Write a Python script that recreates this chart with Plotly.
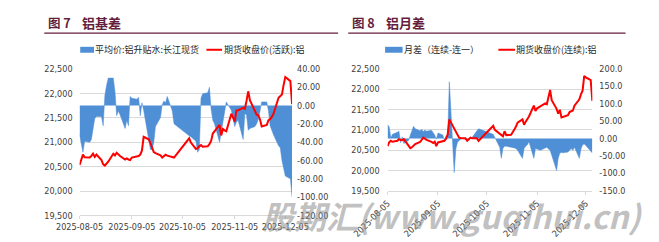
import plotly.graph_objects as go

W, H = 659, 242

# ---------------- data ----------------
dates = [
    "2025-08-05", "2025-08-06", "2025-08-07", "2025-08-08",
    "2025-08-11", "2025-08-12", "2025-08-13", "2025-08-14", "2025-08-15",
    "2025-08-18", "2025-08-19", "2025-08-20", "2025-08-21", "2025-08-22",
    "2025-08-25", "2025-08-26", "2025-08-27", "2025-08-28", "2025-08-29",
    "2025-09-01", "2025-09-02", "2025-09-03", "2025-09-04", "2025-09-05",
    "2025-09-08", "2025-09-09", "2025-09-10", "2025-09-11", "2025-09-12",
    "2025-09-15", "2025-09-16", "2025-09-17", "2025-09-18", "2025-09-19",
    "2025-09-22", "2025-09-23", "2025-09-24", "2025-09-25", "2025-09-26",
    "2025-09-29", "2025-09-30",
    "2025-10-09", "2025-10-10",
    "2025-10-13", "2025-10-14", "2025-10-15", "2025-10-16", "2025-10-17",
    "2025-10-20", "2025-10-21", "2025-10-22", "2025-10-23", "2025-10-24",
    "2025-10-27", "2025-10-28", "2025-10-29", "2025-10-30", "2025-10-31",
    "2025-11-03", "2025-11-04", "2025-11-05", "2025-11-06", "2025-11-07",
    "2025-11-10", "2025-11-11", "2025-11-12", "2025-11-13", "2025-11-14",
    "2025-11-17", "2025-11-18", "2025-11-19", "2025-11-20", "2025-11-21",
    "2025-11-24", "2025-11-25", "2025-11-26", "2025-11-27", "2025-11-28",
    "2025-12-01", "2025-12-02", "2025-12-03", "2025-12-04", "2025-12-05",
    "2025-12-08", "2025-12-09",
]

# Fig 7: basis (right axis) and active futures close (left axis)
basis = [
    -32, -44, -51, -39,
    -40, -37, -25, -14, -12,
    -12, -22, 11, 22, 30,
    30, 15, -11, -6, -10,
    -25, -16, -22, 10, 8,
    7, 9, -11, 3, -5,
    -37, -48, -48, -40, -23,
    -13, 1, 5, 3, 10,
    -6, -20,
    -33, -34,
    -39, -51, -48, 8, 13,
    14, 20, -4, -16, -20,
    -40, -30, -20, -6, 4,
    -5, -15, -23, -18, -16,
    -37, -9, -10, -27, -25,
    -23, -20, -15, -6, 4,
    4, -6, -22, -27, -32,
    -44, -46, -60, -70, -77,
    -80, -100,
]
price_active = [
    20535, 20666, 20745, 20692,
    20686, 20718, 20764, 20699, 20745,
    20633, 20548, 20522, 20568, 20600,
    20764, 20731, 20784, 20745, 20718,
    20646, 20666, 20646, 20633, 20686,
    20699, 20718, 20745, 20830, 21111,
    21059, 20980, 20895, 20797, 20777,
    20731, 20686, 20715, 20745, 20725,
    20699, 20686,
    21079, 20993,
    20862, 20876, 20915, 20941, 20908,
    20915, 20961, 21026, 21177, 21223,
    21354, 21138, 21269, 21242, 21223,
    21583, 21504, 21419, 21649, 21655,
    21701, 21681, 21845, 22042, 21858,
    21616, 21563, 21550, 21465, 21321,
    21354, 21452, 21472, 21518, 21583,
    21911, 21943, 21976, 22173, 22336,
    22251, 21780,
]

# Fig 8: calendar spread (right axis) and continuous futures close (left axis)
spread = [
    40, 33, 2, 12,
    18, 21, -12, 5, -14,
    -5, 10, 25, 35, 28,
    22, 26, 20, 24, 21,
    24, 18, 10, -2, 16,
    10, -6, 8, 5, 163,
    -98, -30, -11, -6, -2,
    3, -2, -6, 0, 3,
    22, 28,
    12, 3,
    -25, -57, -28, -22, -22,
    -25, -25, -27, -29, -34,
    -57, -29, -22, -18, -9,
    -57, -29, -30, -33, -34,
    -27, -25, -30, -34, -48,
    -92, -57, -42, -40, -41,
    -39, -34, -29, -34, -25,
    -57, -30, -18, -16, -20,
    -35, -42,
]
price_cont = [
    20596, 20690, 20729, 20705,
    20729, 20769, 20750, 20745, 20769,
    20596, 20549, 20570, 20610, 20650,
    20700, 20769, 20808, 20780, 20753,
    20706, 20674, 20706, 20596, 20690,
    20706, 20729, 20780, 20887, 21257,
    21050, 20966, 20887, 20808, 20800,
    20785, 20730, 20760, 20808, 20790,
    20790, 20729,
    21100, 21000,
    20900, 20863, 20840, 20966, 20870,
    20880, 20930, 21005, 21080, 21179,
    21257, 21123, 21201, 21260, 21330,
    21596, 21462, 21530, 21556, 21580,
    21650, 21630, 21793, 21982, 21729,
    21517, 21399, 21493, 21304, 21320,
    21359, 21438, 21450, 21477, 21595,
    21753, 21871, 21965, 22328, 22290,
    22225, 21713,
]

x_ticks = ["2025-08-05", "2025-09-05", "2025-10-05", "2025-11-05", "2025-12-05"]
x_range = ["2025-08-05", "2025-12-09"]
price_ticks = [19500, 20000, 20500, 21000, 21500, 22000, 22500]
price_text = ["19,500", "20,000", "20,500", "21,000", "21,500", "22,000", "22,500"]
basis_ticks = [-120, -100, -80, -60, -40, -20, 0, 20, 40]
basis_text = ["-120.00", "-100.00", "-80.00", "-60.00", "-40.00", "-20.00", "0.00", "20.00", "40.00"]
spread_ticks = [-150, -100, -50, 0, 50, 100, 150, 200]
spread_text = ["-150.0", "-100.0", "-50.00", "0.00", "50.00", "100.0", "150.0", "200.0"]

BLUE = "#4F8FD6"
RED = "#FF0000"
MAROON = "#641E3C"
GRID = "#D9D9D9"
TICKFONT = dict(family="Liberation Sans Narrow, DejaVu Sans Condensed, Arial Narrow, sans-serif",
                size=9, color="#404040")
CJK = "Noto Sans CJK SC"


def px(x):
    return x / W


def py(y):
    return 1 - y / H


fig = go.Figure()

# Fig 7 traces
fig.add_trace(go.Scatter(x=dates, y=basis, xaxis="x", yaxis="y", mode="lines",
                         fill="tozeroy", fillcolor=BLUE, line=dict(color=BLUE, width=0.5),
                         name="平均价:铝升贴水:长江现货", showlegend=False))
fig.add_trace(go.Scatter(x=dates, y=price_active, xaxis="x", yaxis="y2", mode="lines",
                         line=dict(color=RED, width=2), name="期货收盘价(活跃):铝",
                         showlegend=False))
# Fig 8 traces
fig.add_trace(go.Scatter(x=dates, y=spread, xaxis="x2", yaxis="y3", mode="lines",
                         fill="tozeroy", fillcolor=BLUE, line=dict(color=BLUE, width=0.5),
                         name="月差（连续-连一）", showlegend=False))
fig.add_trace(go.Scatter(x=dates, y=price_cont, xaxis="x2", yaxis="y4", mode="lines",
                         line=dict(color=RED, width=2), name="期货收盘价(连续):铝",
                         showlegend=False))

d1x = [px(47.3), px(278)]
d1y = [py(219.5), py(66.7)]
d2x = [px(381.7), px(604)]
d2y = [py(193.7), py(66.7)]

xcommon = dict(type="date", range=x_range, tickvals=x_ticks, ticktext=x_ticks,
               showgrid=False, showline=True, linecolor=GRID, linewidth=1,
               ticks="outside", ticklen=3, tickcolor=GRID, tickfont=TICKFONT,
               zeroline=False, fixedrange=True)

fig.update_layout(
    width=W, height=H,
    margin=dict(l=0, r=0, t=0, b=0),
    paper_bgcolor="white", plot_bgcolor="white",
    showlegend=False,
    xaxis=dict(domain=d1x, anchor="y", **xcommon),
    yaxis=dict(domain=d1y, anchor="x", side="right", range=[-120, 40],
               tickvals=basis_ticks, ticktext=basis_text, showgrid=False,
               zeroline=False, showline=False, ticks="", ticklabelstandoff=4,
               tickfont=TICKFONT),
    yaxis2=dict(overlaying="y", anchor="x", side="left", range=[19500, 22500],
                tickvals=price_ticks, ticktext=price_text, showgrid=True,
                gridcolor=GRID, gridwidth=1, zeroline=False, showline=False,
                ticks="", ticklabelstandoff=6, tickfont=TICKFONT),
    xaxis2=dict(domain=d2x, anchor="y3", tickangle=-45, **xcommon),
    yaxis3=dict(domain=d2y, anchor="x2", side="right", range=[-150, 200],
                tickvals=spread_ticks, ticktext=spread_text, showgrid=False,
                zeroline=False, showline=False, ticks="", ticklabelstandoff=6,
                tickfont=TICKFONT),
    yaxis4=dict(overlaying="y3", anchor="x2", side="left", range=[19500, 22500],
                tickvals=price_ticks, ticktext=price_text, showgrid=True,
                gridcolor=GRID, gridwidth=1, zeroline=False, showline=False,
                ticks="", ticklabelstandoff=7, tickfont=TICKFONT),
)

shapes = [
    # title rules
    dict(type="line", xref="paper", yref="paper", x0=px(9), x1=px(328), y0=py(29.3), y1=py(29.3),
         line=dict(color=MAROON, width=1.2)),
    dict(type="line", xref="paper", yref="paper", x0=px(339), x1=px(640), y0=py(29.3), y1=py(29.3),
         line=dict(color=MAROON, width=1.2)),
    # legend swatches
    dict(type="rect", xref="paper", yref="paper", x0=px(48), x1=px(63), y0=py(49.8), y1=py(43.6),
         fillcolor=BLUE, line=dict(width=0)),
    dict(type="line", xref="paper", yref="paper", x0=px(185), x1=px(202), y0=py(46.7), y1=py(46.7),
         line=dict(color=RED, width=2)),
    dict(type="rect", xref="paper", yref="paper", x0=px(379), x1=px(398), y0=py(49.8), y1=py(43.6),
         fillcolor=BLUE, line=dict(width=0)),
    dict(type="line", xref="paper", yref="paper", x0=px(502), x1=px(520), y0=py(46.7), y1=py(46.7),
         line=dict(color=RED, width=2)),
]


def ann(text, x, y, size, color, bold=False, xanchor="left", **kw):
    return dict(text=text, xref="paper", yref="paper", x=px(x), y=py(y),
                xanchor=xanchor, yanchor="middle", showarrow=False,
                font=dict(family=CJK, size=size, color=color,
                          weight="bold" if bold else "normal", **kw),
                borderpad=0)


annotations = [
    ann("图 7", 11.5, 18.3, 12.5, MAROON, bold=True),
    ann("铝基差", 48.5, 18.3, 13, MAROON, bold=True),
    ann("图 8", 341.5, 18.3, 12.5, MAROON, bold=True),
    ann("铝月差", 378.5, 18.3, 13, MAROON, bold=True),
    ann("平均价:铝升贴水:长江现货", 63.5, 46.7, 9, "#262626"),
    ann("期货收盘价(活跃):铝", 202.5, 46.7, 9, "#262626"),
    ann("月差（连续-连一）", 398.5, 46.7, 9, "#262626"),
    ann("期货收盘价(连续):铝", 520.5, 46.7, 9, "#262626"),
    dict(text="股期汇(www.guqihui.cn)", xref="paper", yref="paper", x=px(452), y=py(219),
         xanchor="center", yanchor="middle", showarrow=False,
         font=dict(family=CJK, size=32, color="rgba(140,140,140,0.55)",
                   weight="bold", style="italic")),
]

fig.update_layout(shapes=shapes, annotations=annotations)

fig.write_html("out.html")
